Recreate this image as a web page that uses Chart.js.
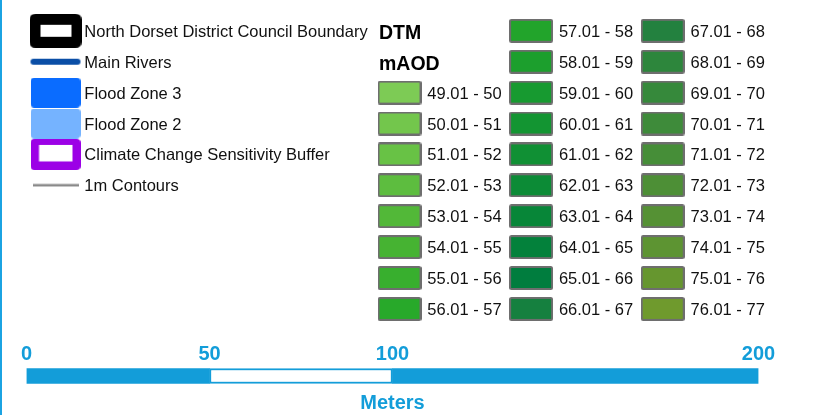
<!DOCTYPE html>
<html>
<head>
  <title>DTM legend</title>
  <script src="https://cdn.jsdelivr.net/npm/chart.js"></script>
  <style>
    body { margin: 0; background: #ffffff; }
    #wrap { position: relative; width: 826px; height: 415px; overflow: hidden; background: #ffffff; }
    #wrap:before { content: ''; position: absolute; left: 0; top: 0; width: 2px; height: 415px; background: #1ba3e2; }
    canvas { position: absolute; }
  </style>
</head>
<body>
<div id="wrap">
  <canvas id="layersChart" width="380" height="200" style="left:0;top:0"></canvas>
  <canvas id="dtmChart" width="456" height="330" style="left:370px;top:0"></canvas>
  <canvas id="scaleChart" width="784" height="85" style="left:0;top:330px"></canvas>
</div>
<script>
  // map layers (left block)
  const layerLabels = ['North Dorset District Council Boundary', 'Main Rivers', 'Flood Zone 3',
    'Flood Zone 2', 'Climate Change Sensitivity Buffer', '1m Contours'];
  const layerKinds = ['outline', 'river', 'fill', 'fill', 'outline', 'contour'];
  const layerColors = ['#000000', '#0a4ea6', '#0a6cff', '#75b3ff', '#9c00e6', '#8a8a8a'];

  // DTM classes (mAOD)
  const dtmHeader = ['DTM', 'mAOD'];
  const dtmClasses = [
    '49.01 - 50', '50.01 - 51', '51.01 - 52', '52.01 - 53', '53.01 - 54', '54.01 - 55', '55.01 - 56', '56.01 - 57',
    '57.01 - 58', '58.01 - 59', '59.01 - 60', '60.01 - 61', '61.01 - 62', '62.01 - 63', '63.01 - 64', '64.01 - 65',
    '65.01 - 66', '66.01 - 67', '67.01 - 68', '68.01 - 69', '69.01 - 70', '70.01 - 71', '71.01 - 72', '72.01 - 73',
    '73.01 - 74', '74.01 - 75', '75.01 - 76', '76.01 - 77'
  ];
  const dtmColors = [
    '#7dcb55', '#73c64c', '#68c245', '#5dbd3f', '#52b838', '#46b332', '#38af2e', '#28a92a',
    '#22a42b', '#1c9f2d', '#179a30', '#139532', '#109034', '#0c8b36', '#078638', '#03813b',
    '#007d3e', '#15803f', '#23813f', '#2d863c', '#36893b', '#3e8b3a', '#468e38', '#4d8f36',
    '#559134', '#5d9432', '#66962f', '#6f9a2d'
  ];

  // scale bar
  const scaleTicks = [0, 50, 100, 200];
  const scaleSegments = [50, 50, 100];
  const scaleUnit = 'Meters';

  const FONT = "'Liberation Sans', Arial, sans-serif";
  const BLUE = '#139dd9';

  function makeCanvas(w, h, draw) {
    const c = document.createElement('canvas');
    c.width = w;
    c.height = h;
    draw(c.getContext('2d'), w, h);
    return c;
  }

  function rr(ctx, x, y, w, h, r) {
    ctx.beginPath();
    ctx.moveTo(x + r, y);
    ctx.lineTo(x + w - r, y);
    ctx.quadraticCurveTo(x + w, y, x + w, y + r);
    ctx.lineTo(x + w, y + h - r);
    ctx.quadraticCurveTo(x + w, y + h, x + w - r, y + h);
    ctx.lineTo(x + r, y + h);
    ctx.quadraticCurveTo(x, y + h, x, y + h - r);
    ctx.lineTo(x, y + r);
    ctx.quadraticCurveTo(x, y, x + r, y);
    ctx.closePath();
  }

  function layerSymbol(kind, color, i) {
    if (kind === 'outline' && i === 0) {
      return makeCanvas(52, 34, ctx => {
        ctx.fillStyle = color; rr(ctx, 0, 0, 52, 34, 6); ctx.fill();
        ctx.fillStyle = '#fff'; ctx.fillRect(11, 11, 31, 12);
      });
    }
    if (kind === 'outline') {
      return makeCanvas(50, 31, ctx => {
        ctx.fillStyle = color; rr(ctx, 0, 0, 50, 31, 4); ctx.fill();
        ctx.fillStyle = '#fff'; ctx.fillRect(8.5, 6, 33.5, 16.5);
      });
    }
    if (kind === 'fill') {
      return makeCanvas(50, 30, ctx => {
        ctx.fillStyle = color; rr(ctx, 0, 0, 50, 30, 4); ctx.fill();
      });
    }
    if (kind === 'river') {
      return makeCanvas(52, 8, ctx => {
        ctx.strokeStyle = color; ctx.lineWidth = 6; ctx.lineCap = 'round';
        ctx.beginPath(); ctx.moveTo(4, 4); ctx.lineTo(48, 4); ctx.stroke();
      });
    }
    return makeCanvas(46, 4, ctx => {
      ctx.strokeStyle = color; ctx.lineWidth = 2.5;
      ctx.beginPath(); ctx.moveTo(0, 2); ctx.lineTo(46, 2); ctx.stroke();
    });
  }

  function dtmSwatch(color) {
    return makeCanvas(44, 24, ctx => {
      ctx.fillStyle = color;
      ctx.strokeStyle = '#6e6e6e';
      ctx.lineWidth = 2;
      rr(ctx, 1, 1, 42, 22, 1.5);
      ctx.fill();
      ctx.stroke();
    });
  }

  // writes each dataset's labels next to its points
  const pointLabels = {
    id: 'pointLabels',
    afterDatasetsDraw(chart) {
      const ctx = chart.ctx;
      chart.data.datasets.forEach((ds, di) => {
        if (!ds.labels) return;
        const meta = chart.getDatasetMeta(di);
        ctx.save();
        ctx.font = ds.labelFont;
        ctx.fillStyle = ds.labelColor;
        ctx.textBaseline = 'middle';
        ctx.textAlign = 'left';
        meta.data.forEach((pt, i) => ctx.fillText(ds.labels[i], pt.x + ds.labelOffset, pt.y + ds.labelDy));
        ctx.restore();
      });
    }
  };

  function gridOptions(padding, xmax, ymax) {
    return {
      responsive: false,
      animation: false,
      events: [],
      layout: { padding: padding },
      plugins: { legend: { display: false }, tooltip: { enabled: false } },
      scales: {
        x: { type: 'linear', display: false, min: 0, max: xmax },
        y: { type: 'linear', display: false, min: 0, max: ymax, reverse: true }
      }
    };
  }

  new Chart(document.getElementById('layersChart'), {
    type: 'scatter',
    data: {
      datasets: [{
        data: layerLabels.map((l, i) => ({ x: 0, y: i })),
        pointStyle: layerKinds.map((k, i) => layerSymbol(k, layerColors[i], i)),
        pointRadius: 5,
        clip: false,
        labels: layerLabels,
        labelFont: '16.5px ' + FONT,
        labelColor: '#111111',
        labelOffset: 28.8,
        labelDy: 1.5
      }]
    },
    options: gridOptions({ left: 55.5, right: 10, top: 30.8, bottom: 14.7 }, 1, 5),
    plugins: [pointLabels]
  });

  // first column starts below the two header rows
  const dtmPoints = dtmClasses.map((c, i) => {
    const k = i + 2;
    return { x: Math.floor(k / 10), y: k % 10 };
  });

  new Chart(document.getElementById('dtmChart'), {
    type: 'scatter',
    data: {
      datasets: [{
        data: dtmHeader.map((h, i) => ({ x: 0, y: i })),
        pointRadius: 0,
        clip: false,
        labels: dtmHeader,
        labelFont: 'bold 19.5px ' + FONT,
        labelColor: '#000000',
        labelOffset: -20.5,
        labelDy: 2.5
      }, {
        data: dtmPoints,
        pointStyle: dtmColors.map(dtmSwatch),
        pointRadius: 5,
        clip: false,
        labels: dtmClasses,
        labelFont: '16.5px ' + FONT,
        labelColor: '#111111',
        labelOffset: 27.8,
        labelDy: 1.5
      }]
    },
    options: gridOptions({ left: 29.5, right: 163.3, top: 30.8, bottom: 21.1 }, 2, 9),
    plugins: [pointLabels]
  });

  new Chart(document.getElementById('scaleChart'), {
    type: 'bar',
    data: {
      labels: [''],
      datasets: scaleSegments.map((v, i) => ({
        data: [v],
        backgroundColor: i === 1 ? '#ffffff' : BLUE,
        borderColor: BLUE,
        borderWidth: i === 1 ? 2 : 0,
        borderSkipped: false,
        barThickness: 15
      }))
    },
    options: {
      indexAxis: 'y',
      responsive: false,
      animation: false,
      events: [],
      layout: { padding: { left: 26.5, right: 25.5, top: 14, bottom: 0 } },
      plugins: {
        legend: { display: false },
        tooltip: { enabled: false },
        title: {
          display: true, text: scaleUnit, position: 'bottom', color: BLUE,
          padding: { top: 3, bottom: 0 },
          font: { family: FONT, size: 20, weight: 'bold', lineHeight: 1.2 }
        }
      },
      scales: {
        x: {
          type: 'linear', position: 'top', stacked: true, min: 0, max: 200,
          grid: { display: false, drawTicks: false },
          border: { display: false },
          afterBuildTicks: axis => { axis.ticks = scaleTicks.map(v => ({ value: v })); },
          ticks: {
            color: BLUE, padding: 0, maxRotation: 0, autoSkip: false,
            font: { family: FONT, size: 20, weight: 'bold', lineHeight: 1 }
          }
        },
        y: { stacked: true, display: false }
      }
    }
  });
</script>
</body>
</html>
